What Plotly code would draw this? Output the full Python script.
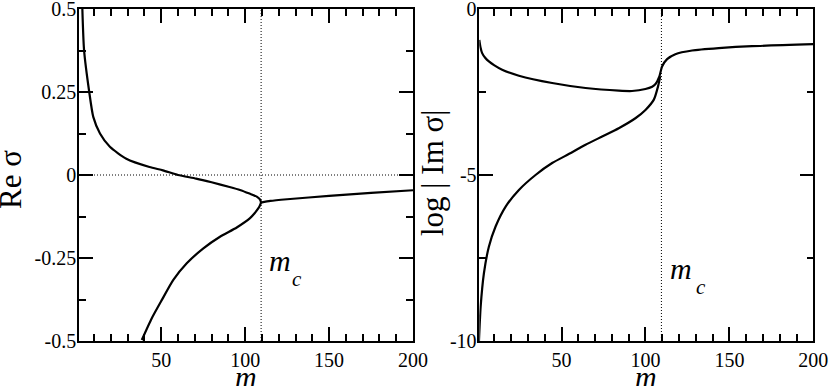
import plotly.graph_objects as go

# critical mass, shown as the dotted vertical line
m_c = 109.5

# Re sigma: upper branch going into the merge, then back out along the lower branch
re_branch_m = [3.0, 4.0, 7.1, 9.5, 13.5, 19.4, 29.2, 43, 51, 60, 70.8, 80, 90.7,
               96.9, 102.6, 106.9, 108.7, 109.4,
               108.8, 107.9, 105.5, 102.9, 95, 85, 75.1, 65.2, 57.2, 50.3, 44.3, 38.4]
re_branch = [0.5, 0.377, 0.25, 0.175, 0.125, 0.085, 0.049, 0.024, 0.014, 0.0, -0.011,
             -0.022, -0.036, -0.045, -0.056, -0.065, -0.073, -0.083,
             -0.092, -0.100, -0.116, -0.130, -0.158, -0.186, -0.221, -0.266, -0.316,
             -0.377, -0.432, -0.497]
# Re sigma after the two roots merge
re_after_m = [109.4, 115, 125, 150, 175, 200]
re_after = [-0.083, -0.078, -0.073, -0.063, -0.054, -0.046]

# log|Im sigma|
im_upper_m = [1, 1.7, 2.7, 4.5, 6.7, 10, 14.6, 24.6, 44.4, 64.3, 84.1, 92, 100, 104, 106,
              108.3, 109.9, 112.9, 117.8, 127.8, 143.6, 163.5, 200]
im_upper = [-0.93, -1.15, -1.33, -1.47, -1.58, -1.70, -1.83, -2.01, -2.23, -2.38, -2.46,
            -2.47, -2.41, -2.34, -2.26, -2.03, -1.73, -1.51, -1.36, -1.25, -1.18, -1.12,
            -1.06]
im_lower_m = [0.8, 1.8, 3.75, 6.7, 10.7, 16.7, 24.6, 34.5, 44.4, 54.3, 64.3, 74.2, 84.1,
              94, 100, 105, 107.5, 108.8]
im_lower = [-10.0, -8.97, -7.96, -7.16, -6.55, -5.95, -5.45, -5.0, -4.64, -4.37, -4.09,
            -3.84, -3.59, -3.29, -3.04, -2.73, -2.33, -2.03]

x_ticks = [50, 100, 150, 200]
re_ticks = [-0.5, -0.25, 0, 0.25, 0.5]
re_ticktext = ['-0.5', '-0.25', '0', '0.25', '0.5']
im_ticks = [-10, -5, 0]
im_ticktext = ['-10', '-5', '0']

W, H = 830, 386
serif = 'Liberation Serif, Times New Roman, serif'
curve = dict(color='black', width=2.2, shape='spline', smoothing=0.6)

fig = go.Figure()
fig.add_trace(go.Scatter(x=re_branch_m, y=re_branch, mode='lines', line=curve,
                         xaxis='x', yaxis='y'))
fig.add_trace(go.Scatter(x=re_after_m, y=re_after, mode='lines', line=curve,
                         xaxis='x', yaxis='y'))
fig.add_trace(go.Scatter(x=im_upper_m, y=im_upper, mode='lines', line=curve,
                         xaxis='x2', yaxis='y2'))
fig.add_trace(go.Scatter(x=im_lower_m, y=im_lower, mode='lines', line=curve,
                         xaxis='x2', yaxis='y2'))

axis_style = dict(showline=True, linecolor='black', linewidth=1.5, mirror='ticks',
                  ticks='inside', ticklen=14, tickwidth=1.5, tickcolor='black',
                  showgrid=False, zeroline=False, ticklabeloverflow='allow',
                  automargin=False,
                  tickfont=dict(family=serif, size=20, color='black'))
minor = dict(ticks='inside', ticklen=7, tickwidth=1.5, tickcolor='black', showgrid=False)

ytop = 1 - 9 / H
ybot = 1 - 341 / H

fig.update_layout(
    width=W, height=H,
    margin=dict(l=0, r=0, t=0, b=0, autoexpand=False),
    paper_bgcolor='white', plot_bgcolor='white',
    font=dict(family=serif, size=20, color='black'),
    showlegend=False,
    xaxis=dict(axis_style, domain=[79 / W, 413 / W], range=[1, 200],
               tickvals=x_ticks, minor=dict(minor, dtick=10, tick0=0), anchor='y'),
    yaxis=dict(axis_style, domain=[ybot, ytop], range=[-0.5, 0.5],
               tickvals=re_ticks, ticktext=re_ticktext, ticklabelstandoff=-3,
               minor=dict(minor, dtick=0.125, tick0=0), anchor='x'),
    xaxis2=dict(axis_style, domain=[479.3 / W, 813.3 / W], range=[1, 200],
                tickvals=x_ticks, minor=dict(minor, dtick=10, tick0=0), anchor='y2'),
    yaxis2=dict(axis_style, domain=[ybot, ytop], range=[-10, 0],
                tickvals=im_ticks, ticktext=im_ticktext, ticklabelstandoff=-3,
                minor=dict(minor, dtick=2.5, tick0=0), anchor='x2'),
)

dotted = dict(color='black', width=1, dash='1px,2px')
fig.add_shape(type='line', xref='x', yref='y domain', x0=m_c, x1=m_c, y0=0, y1=1,
              line=dotted, layer='below')
fig.add_shape(type='line', xref='x domain', yref='y', x0=0, x1=1, y0=0, y1=0,
              line=dotted, layer='below')
fig.add_shape(type='line', xref='x2', yref='y2 domain', x0=m_c, x1=m_c, y0=0, y1=1,
              line=dotted, layer='below')


def label(text, px, py, size=30, angle=0):
    fig.add_annotation(text=text, x=px / W, y=1 - py / H, xref='paper', yref='paper',
                       showarrow=False, textangle=angle,
                       font=dict(family=serif, size=size, color='black'),
                       xanchor='center', yanchor='middle')


label('Re σ', 10, 180, size=31, angle=-90)
label('log | Im σ|', 432, 173, size=31, angle=-90)
label('<i>m</i>', 246, 376)
label('<i>m</i>', 646, 376)
# m_c markers next to the dotted lines
label('<i>m</i>', 280, 260)
label('<i>c</i>', 297, 279, size=21)
label('<i>m</i>', 681, 268)
label('<i>c</i>', 701, 287, size=21)

# the page's default 8px body margin would push the figure off the window
fig.write_html('out.html', config={'displayModeBar': False},
               post_script="document.body.style.margin = '0';")
